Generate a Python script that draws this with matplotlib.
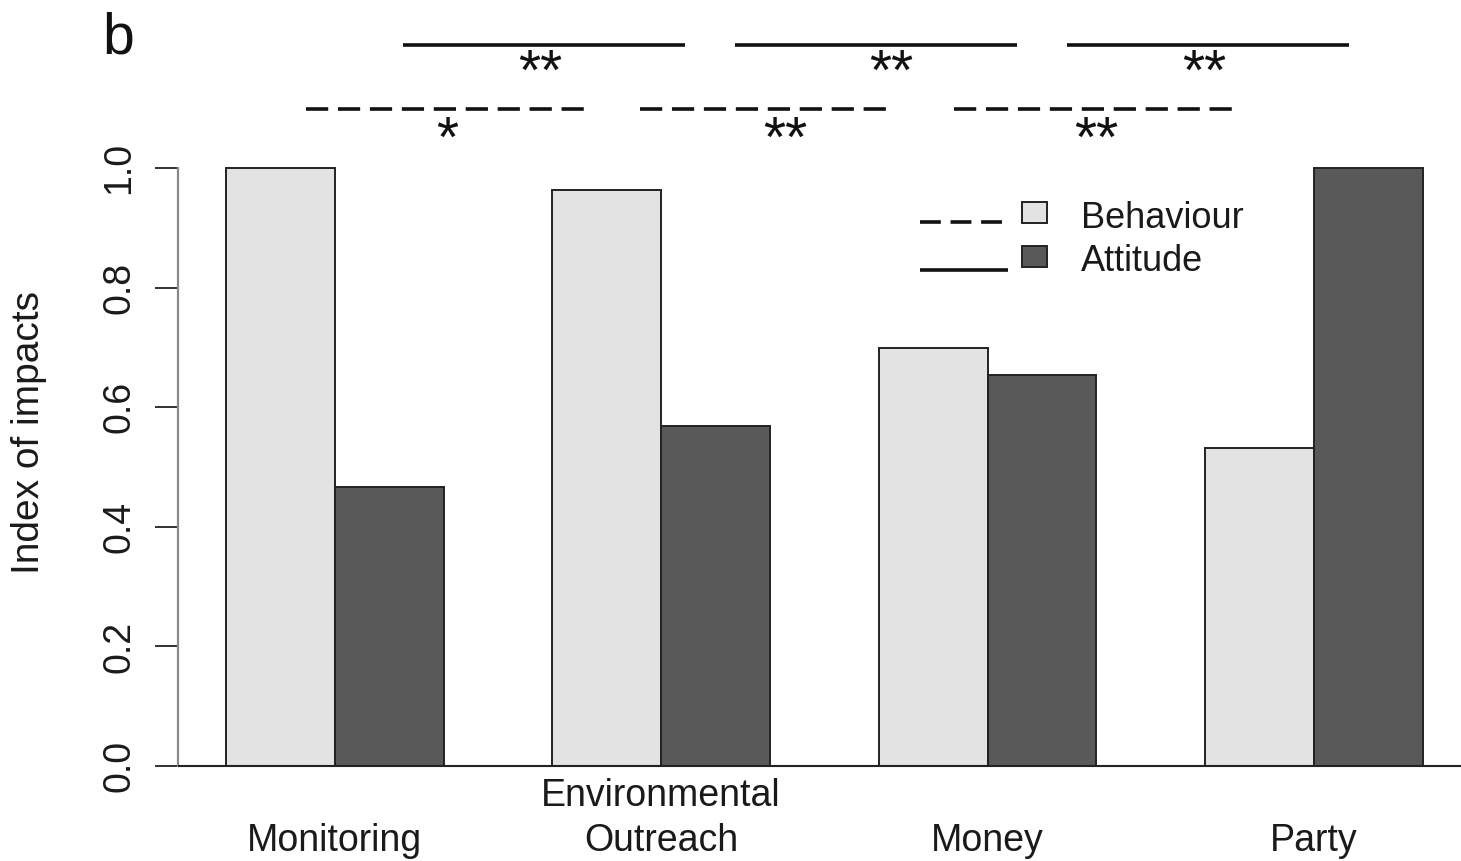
import matplotlib
matplotlib.use("Agg")
import matplotlib.pyplot as plt
from matplotlib.lines import Line2D
from matplotlib.patches import Rectangle

plt.rcParams["font.family"] = ["Liberation Sans", "DejaVu Sans"]
plt.rcParams["lines.scale_dashes"] = False

# ---- data -------------------------------------------------------------
categories = ["Monitoring", "Environmental\nOutreach", "Money", "Party"]
behaviour = [1.0, 0.963, 0.699, 0.532]
attitude = [0.466, 0.569, 0.654, 1.0]
series_names = ["Behaviour", "Attitude"]
yticks = [0.0, 0.2, 0.4, 0.6, 0.8, 1.0]

# pairwise comparisons: (x_start, x_end, label)
attitude_tests = [(2.63, 5.22, "**"), (5.68, 8.27, "**"), (8.73, 11.32, "**")]
attitude_label_x = [3.89, 7.11, 9.99]
behaviour_tests = [(1.74, 4.35, "*"), (4.81, 7.15, "**"), (7.69, 10.31, "**")]
behaviour_label_x = [3.03, 6.14, 9.00]

light = "#e3e3e3"
dark = "#595959"

W, H = 1461, 861
fig = plt.figure(figsize=(W / 100, H / 100), dpi=100)


def fx(px):
    return px / W


def fy(py):
    return 1 - py / H


# plot region: x from 0.56 (px 178), y from -0.04 (px 790) to 1.04 (px 144)
ax = fig.add_axes([fx(178), fy(790), fx(1461) - fx(178), fy(144) - fy(790)])
ax.set_xlim(0.56, 12.35)
ax.set_ylim(-0.04, 1.04)

for i, (b, a) in enumerate(zip(behaviour, attitude)):
    left = 1 + 3 * i
    ax.bar(left, b, width=1, align="edge", color=light, edgecolor="#222222", linewidth=1.4)
    ax.bar(left + 1, a, width=1, align="edge", color=dark, edgecolor="#222222", linewidth=1.4)

ax.axhline(0, color="#222222", linewidth=1.5, zorder=5)

for s in ["top", "right", "bottom"]:
    ax.spines[s].set_visible(False)
ax.spines["left"].set_bounds(0, 1)
ax.spines["left"].set_color("#8a8a8a")
ax.spines["left"].set_linewidth(1.6)

ax.set_xticks([])
ax.set_yticks(yticks)
ax.set_yticklabels([f"{t:.1f}" for t in yticks], rotation=90, va="center",
                   fontsize=27, color="#1a1a1a")
ax.tick_params(axis="y", direction="out", length=16.5, width=1.3, color="#222222", pad=13)

# category labels, bottom line aligned
for i, lab in enumerate(categories):
    xc = 2 + 3 * i
    lines = lab.split("\n")
    base = [-0.142]
    if len(lines) == 2:
        base = [-0.0669, -0.142]
    for ln, yb in zip(lines, base):
        ax.text(xc, yb, ln, ha="center", va="baseline", fontsize=27,
                color="#1a1a1a", clip_on=False)

fig.text(fx(29), fy(432), "Index of impacts", rotation=90, ha="center", va="center",
         fontsize=28, color="#1a1a1a")
fig.text(fx(102), fy(53), "b", ha="left", va="baseline", fontsize=41, color="#111111")

# significance bars
y_att, y_beh = 1.2057, 1.0987
for (x0, x1, lab), xl in zip(attitude_tests, attitude_label_x):
    ax.plot([x0, x1], [y_att, y_att], color="#111111", lw=2.6, clip_on=False,
            solid_capstyle="butt")
    ax.text(xl, 1.130, lab, ha="center", va="baseline", fontsize=41, color="#111111",
            clip_on=False)
for (x0, x1, lab), xl in zip(behaviour_tests, behaviour_label_x):
    ax.plot([x0, x1], [y_beh, y_beh], color="#111111", lw=2.6, clip_on=False,
            linestyle=(0, (16, 7)), dash_capstyle="butt")
    ax.text(xl, 1.018, lab, ha="center", va="baseline", fontsize=41, color="#111111",
            clip_on=False)

# legend
fig.add_artist(Line2D([fx(920), fx(1007)], [fy(222), fy(222)], color="#111111", lw=2.6,
                      linestyle=(0, (15, 7)), dash_capstyle="butt"))
fig.add_artist(Line2D([fx(920), fx(1008)], [fy(270), fy(270)], color="#111111", lw=2.6,
                      solid_capstyle="butt"))
fig.add_artist(Rectangle((fx(1022), fy(223)), fx(25), 21 / H, transform=fig.transFigure,
                         facecolor=light, edgecolor="#222222", lw=1.4))
fig.add_artist(Rectangle((fx(1022), fy(267)), fx(25), 21 / H, transform=fig.transFigure,
                         facecolor=dark, edgecolor="#222222", lw=1.4))
fig.text(fx(1081), fy(228), series_names[0], ha="left", va="baseline", fontsize=26,
         color="#1a1a1a")
fig.text(fx(1081), fy(271), series_names[1], ha="left", va="baseline", fontsize=26,
         color="#1a1a1a")

fig.savefig("out.png", dpi=100, facecolor="white")
